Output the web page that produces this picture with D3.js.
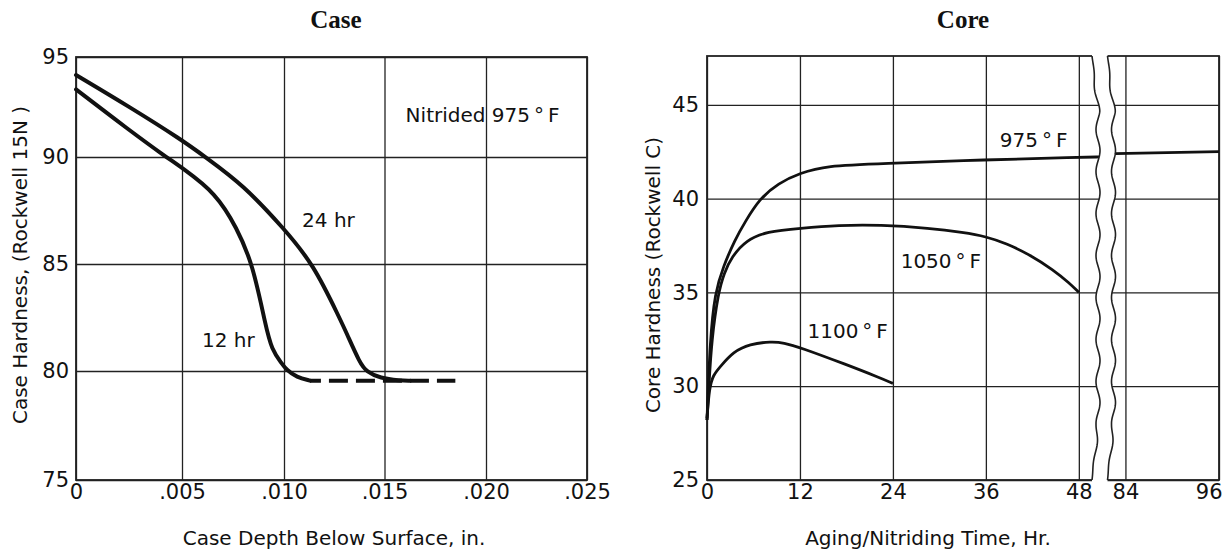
<!DOCTYPE html>
<html>
<head>
<meta charset="utf-8">
<script src="https://cdnjs.cloudflare.com/ajax/libs/d3/7.8.5/d3.min.js"></script>
<style>
body { margin: 0; background: #fff; }
svg text { font-family: "DejaVu Sans", sans-serif; fill: #111; }
</style>
</head>
<body>
<svg id="chart" width="1226" height="550"></svg>
<script>
// ---- data ----
var caseDepthTicks = [0, 0.005, 0.010, 0.015, 0.020, 0.025];
var caseDepthLabels = ["0", ".005", ".010", ".015", ".020", ".025"];
var caseHardTicks = [75, 80, 85, 90, 95];

// [depth in., Rockwell 15N]
var case24hr = [[0, 94.1], [0.0025, 92.52], [0.005, 90.85], [0.00614, 90.0], [0.008, 88.7],
    [0.010, 86.65], [0.01146, 85.0], [0.0128, 82.4], [0.0131, 81.8], [0.01378, 80.36],
    [0.01411, 79.97], [0.01478, 79.67], [0.01576, 79.56], [0.01626, 79.55]];
var case12hr = [[0, 93.38], [0.0025, 91.35], [0.00425, 90.0], [0.005, 89.5], [0.00667, 88.3],
    [0.00768, 86.7], [0.00847, 85.0], [0.0091, 82.1], [0.0094, 81.0], [0.00988, 80.36],
    [0.01013, 80.05], [0.01063, 79.71], [0.01129, 79.56]];
var caseCoreLevel = [[0.01129, 79.55], [0.01849, 79.55]];

var coreTimeTicksA = [0, 12, 24, 36, 48];
var coreTimeTicksB = [84, 96];
var coreHardTicks = [25, 30, 35, 40, 45];

// [hours, Rockwell C]
var core975a = [[0, 28.2], [0.39, 32.47], [1.03, 35.0], [2.1, 36.38], [3.6, 37.8], [4.9, 38.75],
    [6.8, 40.0], [9.2, 40.82], [12, 41.36], [15.4, 41.75], [22.3, 41.86], [36, 42.07],
    [48, 42.2], [50.7, 42.22]];
var core975b = [[81, 42.38], [96, 42.5]];
var core1050 = [[0, 28.2], [0.27, 30.2], [0.6, 32.47], [1.46, 35.0], [2.2, 36.02], [3.2, 36.91],
    [5.1, 37.8], [7.7, 38.24], [12, 38.42], [17, 38.58], [22.3, 38.6], [28.8, 38.42],
    [33.1, 38.19], [36, 37.98], [38.7, 37.6], [41.7, 37.0], [44.7, 36.2], [46.8, 35.49],
    [48, 35.0]];
var core1100 = [[0, 28.3], [0.3, 29.9], [0.8, 30.6], [1.7, 31.04], [3.4, 31.84], [5.5, 32.25],
    [8.3, 32.38], [9.9, 32.32], [12, 32.07], [18, 31.15], [22.3, 30.45], [24, 30.15]];

var svg = d3.select("#chart");
var gridColor = "#222";

function styleAxis(g, size) {
    g.select(".domain").remove();
    g.attr("font-family", "DejaVu Sans").attr("font-size", size).attr("color", "#111");
    g.selectAll("line").attr("stroke", gridColor).attr("stroke-width", 1.3);
}

// ================= Case panel =================
var caseTop = 57, caseBottom = 480;

// scan is not quite uniform, so the scales follow the printed grid
var xCase = d3.scaleLinear().domain(caseDepthTicks).range([76, 182, 284, 384.5, 486, 587]);
var yCase = d3.scaleLinear().domain(caseHardTicks).range([480, 371, 264, 157, 57]);

svg.append("g")
    .attr("transform", "translate(0," + caseBottom + ")")
    .call(d3.axisBottom(xCase).tickValues(caseDepthTicks)
        .tickSize(-(caseBottom - caseTop)).tickPadding(4)
        .tickFormat(function(d, i) { return caseDepthLabels[i]; }))
    .call(function(g) { styleAxis(g, 21); });

svg.append("g")
    .attr("transform", "translate(" + xCase(0) + ",0)")
    .call(d3.axisLeft(yCase).tickValues(caseHardTicks)
        .tickSize(-(xCase(0.025) - xCase(0))).tickPadding(7))
    .call(function(g) { styleAxis(g, 21); });

svg.append("rect")
    .attr("x", xCase(0)).attr("y", caseTop)
    .attr("width", xCase(0.025) - xCase(0)).attr("height", caseBottom - caseTop)
    .attr("fill", "none").attr("stroke", gridColor).attr("stroke-width", 1.8);

var caseLine = d3.line()
    .x(function(d) { return xCase(d[0]); })
    .y(function(d) { return yCase(d[1]); })
    .curve(d3.curveBasis);

svg.append("path").datum(caseCoreLevel)
    .attr("d", caseLine).attr("fill", "none").attr("stroke", "#111")
    .attr("stroke-width", 4).attr("stroke-dasharray", "19 8").attr("stroke-dashoffset", -19);

[case12hr, case24hr].forEach(function(series) {
    svg.append("path").datum(series)
        .attr("d", caseLine).attr("fill", "none").attr("stroke", "#111")
        .attr("stroke-width", 4).attr("stroke-linecap", "round");
});

svg.append("text").attr("x", xCase(0.01604)).attr("y", yCase(91.75))
    .attr("font-size", 20).text("Nitrided 975\u2009°\u2009F");
svg.append("text").attr("x", xCase(0.0109)).attr("y", yCase(86.73))
    .attr("font-size", 20).text("24 hr");
svg.append("text").attr("x", xCase(0.00598)).attr("y", yCase(81.12))
    .attr("font-size", 20).text("12 hr");

svg.append("text").attr("x", 336).attr("y", 28).attr("text-anchor", "middle")
    .style("font-family", "'Liberation Serif', serif").attr("font-weight", "bold")
    .attr("font-size", 25).text("Case");
svg.append("text").attr("x", 334).attr("y", 545).attr("text-anchor", "middle")
    .attr("font-size", 20).text("Case Depth Below Surface, in.");
svg.append("text").attr("transform", "translate(27,265) rotate(-90)")
    .attr("text-anchor", "middle").attr("font-size", 20)
    .text("Case Hardness, (Rockwell 15N )");

// ================= Core panel (broken time axis) =================
var coreTop = 56, coreBottom = 480;
var coreLeft = 707, coreRight = 1219, breakL = 1092, breakR = 1107.5;

var xCoreA = d3.scaleLinear().domain([0, 49.7]).range([coreLeft, breakL]);
var xCoreB = d3.scaleLinear().domain([81.7, 96]).range([breakR, coreRight]);
var yCore = d3.scaleLinear().domain([25, 47.6]).range([coreBottom, coreTop]);

svg.append("g")
    .attr("transform", "translate(0," + coreBottom + ")")
    .call(d3.axisBottom(xCoreA).tickValues(coreTimeTicksA)
        .tickSize(-(coreBottom - coreTop)).tickPadding(4))
    .call(function(g) { styleAxis(g, 21); });

svg.append("g")
    .attr("transform", "translate(0," + coreBottom + ")")
    .call(d3.axisBottom(xCoreB).tickValues(coreTimeTicksB)
        .tickSize(-(coreBottom - coreTop)).tickPadding(4))
    .call(function(g) {
        styleAxis(g, 21);
        g.selectAll(".tick").filter(function(d) { return d === 96; })
            .select("text").attr("text-anchor", "end").attr("x", 3);
    });

svg.append("g")
    .attr("transform", "translate(" + coreLeft + ",0)")
    .call(d3.axisLeft(yCore).tickValues(coreHardTicks)
        .tickSize(-(coreRight - coreLeft)).tickPadding(8))
    .call(function(g) { styleAxis(g, 21); });

svg.append("rect")
    .attr("x", coreLeft).attr("y", coreTop)
    .attr("width", coreRight - coreLeft).attr("height", coreBottom - coreTop)
    .attr("fill", "none").attr("stroke", gridColor).attr("stroke-width", 1.8);

var coreLineA = d3.line()
    .x(function(d) { return xCoreA(d[0]); })
    .y(function(d) { return yCore(d[1]); })
    .curve(d3.curveBasis);
var coreLineB = d3.line()
    .x(function(d) { return xCoreB(d[0]); })
    .y(function(d) { return yCore(d[1]); })
    .curve(d3.curveBasis);

[core975a, core1050, core1100].forEach(function(series) {
    svg.append("path").datum(series)
        .attr("d", coreLineA).attr("fill", "none").attr("stroke", "#111")
        .attr("stroke-width", 2.8);
});
svg.append("path").datum(core975b)
    .attr("d", coreLineB).attr("fill", "none").attr("stroke", "#111")
    .attr("stroke-width", 2.8);

// wavy break marks
function waveX(y) {
    if (y <= coreTop || y >= coreBottom) return 0;
    var u = (y - coreTop) / (coreBottom - coreTop);
    var env = Math.min(1, Math.sin(Math.PI * u) * 2.5);
    return env * (6 + 2 * Math.sin(2 * Math.PI * (y - coreTop) / 42));
}
var ys = d3.range(coreTop - 3, coreBottom + 3.5, 1);
var gapPts = ys.map(function(y) { return [breakL + waveX(y), y]; })
    .concat(ys.slice().reverse().map(function(y) { return [breakR + waveX(y), y]; }));
svg.append("path").attr("d", "M" + gapPts.join("L") + "Z").attr("fill", "#fff");

var waveYs = d3.range(coreTop, coreBottom + 0.5, 1);
[breakL, breakR].forEach(function(bx) {
    svg.append("path")
        .attr("d", d3.line()(waveYs.map(function(y) { return [bx + waveX(y), y]; })))
        .attr("fill", "none").attr("stroke", gridColor).attr("stroke-width", 1.6);
});

svg.append("text").attr("x", xCoreA(37.8)).attr("y", yCore(42.76))
    .attr("font-size", 20).text("975\u2009°\u2009F");
svg.append("text").attr("x", xCoreA(25.0)).attr("y", yCore(36.31))
    .attr("font-size", 20).text("1050\u2009°\u2009F");
svg.append("text").attr("x", xCoreA(12.97)).attr("y", yCore(32.57))
    .attr("font-size", 20).text("1100\u2009°\u2009F");

svg.append("text").attr("x", 963).attr("y", 28).attr("text-anchor", "middle")
    .style("font-family", "'Liberation Serif', serif").attr("font-weight", "bold")
    .attr("font-size", 25).text("Core");
svg.append("text").attr("x", 928).attr("y", 545).attr("text-anchor", "middle")
    .attr("font-size", 20).text("Aging/Nitriding Time, Hr.");
svg.append("text").attr("transform", "translate(660,275) rotate(-90)")
    .attr("text-anchor", "middle").attr("font-size", 20)
    .text("Core Hardness (Rockwell C)");
</script>
</body>
</html>
